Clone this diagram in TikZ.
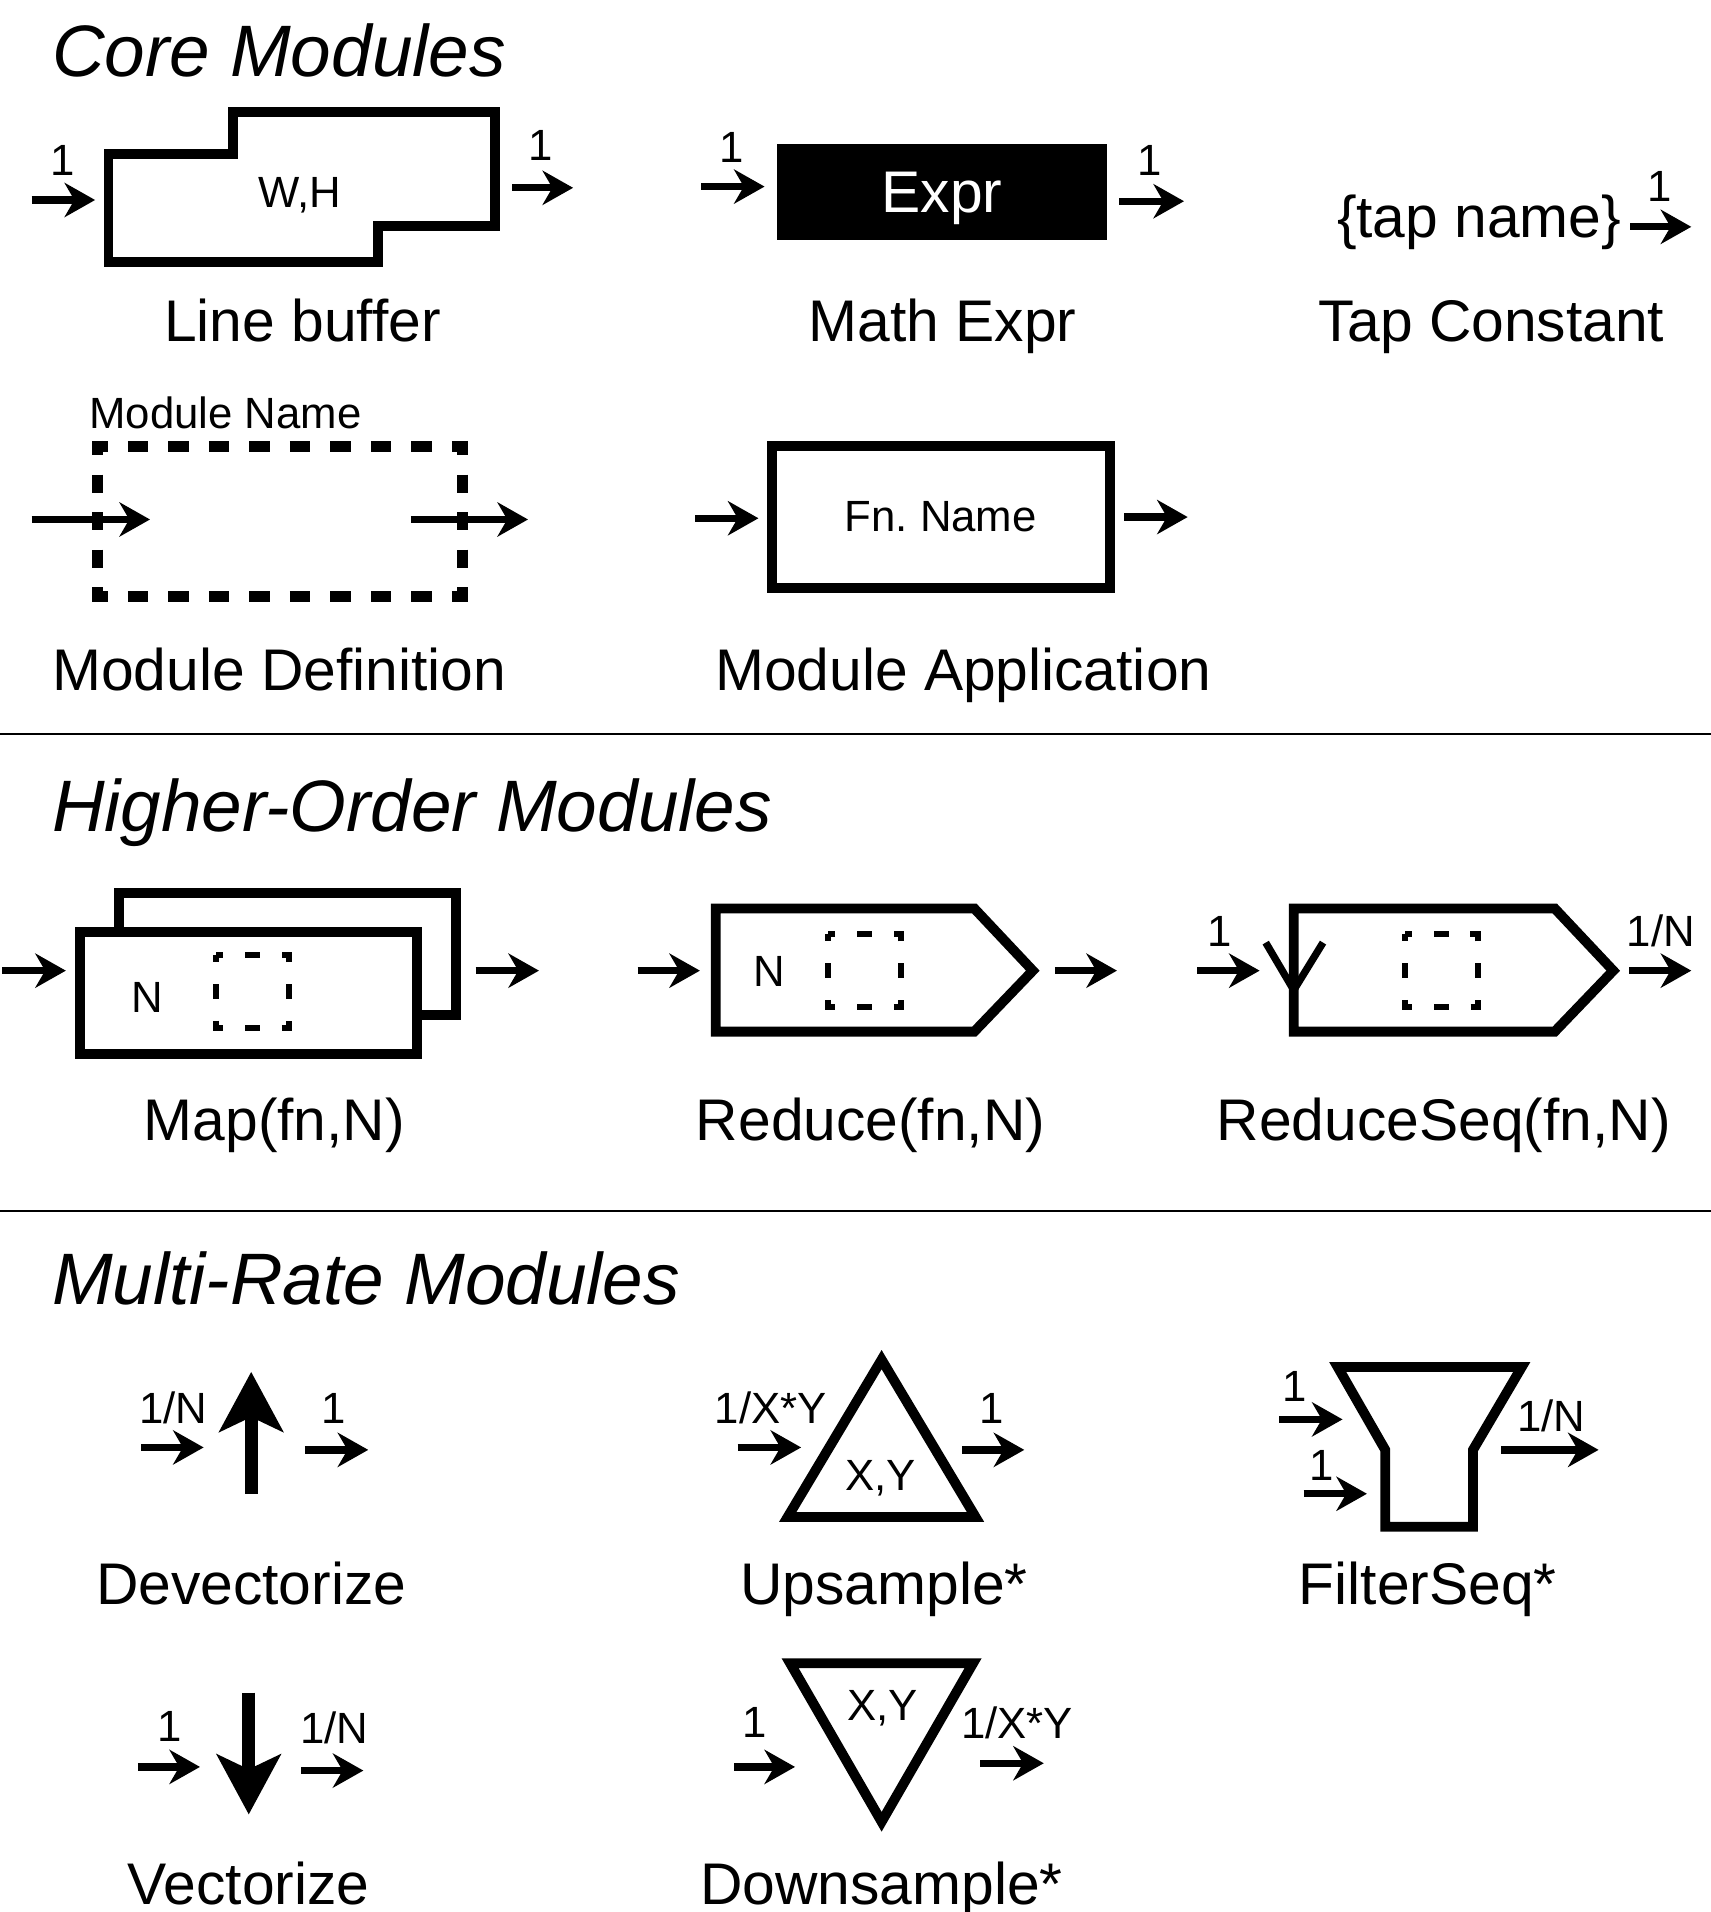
\documentclass[tikz,border=0pt]{standalone}
\usepackage{fontspec}
\setmainfont{Liberation Sans}
\usetikzlibrary{arrows.meta}
\tikzstyle{arrow} = [line width=1.7pt, -{Stealth[length=2.5mm, width=2.8mm, inset=0.8mm]}]
\tikzstyle{bigarrow} = [line width=3.1pt, -{Stealth[length=4.9mm, width=5.2mm, inset=1.2mm]}]
\tikzstyle{modedge} = [line width=2.3pt, line join=miter]
\tikzstyle{block} = [rectangle, draw=black, line width=2.3pt, fill=white, inner sep=0pt]
\tikzstyle{fnslot} = [line width=1.4pt, dash pattern=on 0.12cm off 0.18cm, dash phase=0.06cm]
\tikzstyle{defedge} = [line width=2.6pt]
\tikzstyle{heading} = [font=\fontsize{17}{20}\selectfont\itshape, anchor=base west, inner sep=0pt]
\tikzstyle{caption} = [font=\fontsize{13.7}{16}\selectfont, anchor=base, inner sep=0pt]
\tikzstyle{rate} = [font=\fontsize{10.2}{12}\selectfont, anchor=base, inner sep=0pt]

\begin{document}
\frenchspacing
\begin{tikzpicture}[x=0.01cm, y=-0.01cm]
\useasboundingbox (0,0) rectangle (1403,1568);
\fill [white] (0,0) rectangle (1403,1568);

% Section titles
\node (coretitle) [heading] at (42,63) {Core Modules};
\node (hightitle) [heading] at (42,682) {Higher-Order Modules};
\node (multititle) [heading] at (42,1070) {Multi-Rate Modules};

% Separators
\coordinate (sepa1) at (0,602);
\coordinate (sepa2) at (1403,602);
\coordinate (sepb1) at (0,993);
\coordinate (sepb2) at (1403,993);
\draw [line width=0.6pt] (sepa1) -- (sepa2);
\draw [line width=0.6pt] (sepb1) -- (sepb2);

% Line buffer
\draw [modedge] (89,126) -- (191,126) -- (191,92) -- (406,92) -- (406,185) -- (310,185) -- (310,215) -- (89,215) -- cycle;
\node (lbsize) [rate] at (246,170) {W,H};
\node (lbrate1) [rate] at (51,144) {1};
\node (lbrate2) [rate] at (443,132) {1};
\coordinate (lbin1) at (26,164);
\coordinate (lbin2) at (78,164);
\coordinate (lbout1) at (420,154);
\coordinate (lbout2) at (470,154);
\draw [arrow] (lbin1) -- (lbin2);
\draw [arrow] (lbout1) -- (lbout2);
\node (lbname) [caption] at (248,280) {Line buffer};

% Math Expr
\node (expr) [rectangle, fill=black, text=white, minimum width=2.71cm, minimum height=0.79cm, text depth=0pt, font=\fontsize{13.7}{16}\selectfont] at (772.5,157.5) {Expr};
\node (exprrate1) [rate] at (600,133) {1};
\node (exprrate2) [rate] at (943,144) {1};
\coordinate (exin1) at (575,153);
\coordinate (exin2) at (627,153);
\coordinate (exout1) at (918,165);
\coordinate (exout2) at (971,165);
\draw [arrow] (exin1) -- (exin2);
\draw [arrow] (exout1) -- (exout2);
\node (exprname) [caption] at (773,280) {Math Expr};

% Tap Constant
\node (tap) [caption] at (1213,195) {\{tap name\}};
\node (taprate) [rate] at (1361,165) {1};
\coordinate (tapout1) at (1337,186);
\coordinate (tapout2) at (1387,186);
\draw [arrow] (tapout1) -- (tapout2);
\node (tapname) [caption] at (1223,280) {Tap Constant};

% Module Definition
\draw [defedge, dash pattern=on 0.166cm off 0.166cm, dash phase=0.039cm] (75.5,366) -- (383.5,366) (75.5,489) -- (383.5,489);
\draw [defedge, dash pattern=on 0.15cm off 0.1575cm, dash phase=0.031cm] (80,361.5) -- (80,493.5) (379,361.5) -- (379,493.5);
\node (defname) [rate] at (185,351) {Module Name};
\coordinate (defin1) at (26,426);
\coordinate (defin2) at (123,426);
\coordinate (defout1) at (337,426);
\coordinate (defout2) at (433,426);
\draw [arrow] (defin1) -- (defin2);
\draw [arrow] (defout1) -- (defout2);
\node (deflabel) [caption] at (229,566) {Module Definition};

% Module Application
\node (app) [block, minimum width=2.77cm, minimum height=1.16cm, font=\fontsize{10.2}{12}\selectfont] at (771.5,424) {Fn. Name};
\coordinate (appin1) at (570,425);
\coordinate (appin2) at (622,425);
\coordinate (appout1) at (922,424);
\coordinate (appout2) at (974,424);
\draw [arrow] (appin1) -- (appin2);
\draw [arrow] (appout1) -- (appout2);
\node (applabel) [caption] at (790,566) {Module Application};

% Map
\node (mapback) [block, minimum width=2.76cm, minimum height=1.0cm] at (236,782) {};
\node (mapfront) [block, minimum width=2.76cm, minimum height=1.0cm] at (204,814) {};
\draw [fnslot] (177,783) rectangle (237,843);
\node (mapn) [rate] at (121,830) {N};
\coordinate (mapin1) at (2,796);
\coordinate (mapin2) at (54,796);
\coordinate (mapout1) at (390,796);
\coordinate (mapout2) at (442,796);
\draw [arrow] (mapin1) -- (mapin2);
\draw [arrow] (mapout1) -- (mapout2);
\node (maplabel) [caption] at (225,935) {Map(fn,N)};

% Reduce
\draw [modedge] (587,745) -- (799,745) -- (847,796) -- (799,846) -- (587,846) -- cycle;
\draw [fnslot] (679,766) rectangle (739,826);
\node (redn) [rate] at (631,809) {N};
\coordinate (redin1) at (523,796);
\coordinate (redin2) at (574,796);
\coordinate (redout1) at (865,796);
\coordinate (redout2) at (916,796);
\draw [arrow] (redin1) -- (redin2);
\draw [arrow] (redout1) -- (redout2);
\node (redlabel) [caption] at (714,935) {Reduce(fn,N)};

% ReduceSeq
\draw [modedge] (1061,745) -- (1275,745) -- (1323,796) -- (1275,846) -- (1061,846) -- cycle;
\draw [line width=1.7pt, line join=miter] (1038,773) -- (1061,812) -- (1085,773);
\draw [fnslot] (1152,766) rectangle (1212,826);
\node (rsrate1) [rate] at (1000,776) {1};
\node (rsrate2) [rate] at (1362,776) {1/N};
\coordinate (rsin1) at (982,796);
\coordinate (rsin2) at (1033,796);
\coordinate (rsout1) at (1336,796);
\coordinate (rsout2) at (1387,796);
\draw [arrow] (rsin1) -- (rsin2);
\draw [arrow] (rsout1) -- (rsout2);
\node (rslabel) [caption] at (1184,935) {ReduceSeq(fn,N)};

% Devectorize
\coordinate (dvup1) at (206,1225);
\coordinate (dvup2) at (206,1125);
\draw [bigarrow] (dvup1) -- (dvup2);
\node (dvrate1) [rate] at (142,1167) {1/N};
\node (dvrate2) [rate] at (274,1167) {1};
\coordinate (dvin1) at (116,1187);
\coordinate (dvin2) at (167,1187);
\coordinate (dvout1) at (250,1189);
\coordinate (dvout2) at (302,1189);
\draw [arrow] (dvin1) -- (dvin2);
\draw [arrow] (dvout1) -- (dvout2);
\node (dvlabel) [caption] at (206,1316) {Devectorize};

% Upsample
\draw [modedge] (723,1115) -- (800,1244) -- (646,1244) -- cycle;
\node (upsize) [rate] at (722,1222) {X,Y};
\node (uprate1) [rate] at (632,1167) {1/X*Y};
\node (uprate2) [rate] at (813,1167) {1};
\coordinate (upin1) at (605,1187);
\coordinate (upin2) at (657,1187);
\coordinate (upout1) at (789,1189);
\coordinate (upout2) at (840,1189);
\draw [arrow] (upin1) -- (upin2);
\draw [arrow] (upout1) -- (upout2);
\node (uplabel) [caption] at (725,1316) {Upsample*};

% FilterSeq
\draw [modedge] (1097,1121) -- (1248,1121) -- (1208,1189) -- (1208,1252) -- (1136,1252) -- (1136,1189) -- cycle;
\node (fsrate1) [rate] at (1062,1149) {1};
\node (fsrate2) [rate] at (1084,1214) {1};
\node (fsrate3) [rate] at (1272,1174) {1/N};
\coordinate (fsin1) at (1049,1164);
\coordinate (fsin2) at (1101,1164);
\coordinate (fsinb1) at (1069,1225);
\coordinate (fsinb2) at (1121,1225);
\coordinate (fsout1) at (1231,1189);
\coordinate (fsout2) at (1311,1189);
\draw [arrow] (fsin1) -- (fsin2);
\draw [arrow] (fsinb1) -- (fsinb2);
\draw [arrow] (fsout1) -- (fsout2);
\node (fslabel) [caption] at (1171,1316) {FilterSeq*};

% Vectorize
\coordinate (vcdown1) at (204,1388);
\coordinate (vcdown2) at (204,1488);
\draw [bigarrow] (vcdown1) -- (vcdown2);
\node (vcrate1) [rate] at (139,1428) {1};
\node (vcrate2) [rate] at (274,1430) {1/N};
\coordinate (vcin1) at (113,1449);
\coordinate (vcin2) at (164,1449);
\coordinate (vcout1) at (247,1452);
\coordinate (vcout2) at (298,1452);
\draw [arrow] (vcin1) -- (vcin2);
\draw [arrow] (vcout1) -- (vcout2);
\node (vclabel) [caption] at (204,1562) {Vectorize};

% Downsample
\draw [modedge] (648,1364) -- (798,1364) -- (723,1494) -- cycle;
\node (dnsize) [rate] at (724,1411) {X,Y};
\node (dnrate1) [rate] at (619,1425) {1};
\node (dnrate2) [rate] at (834,1426) {1/X*Y};
\coordinate (dnin1) at (602,1449);
\coordinate (dnin2) at (652,1449);
\coordinate (dnout1) at (804,1446);
\coordinate (dnout2) at (856,1446);
\draw [arrow] (dnin1) -- (dnin2);
\draw [arrow] (dnout1) -- (dnout2);
\node (dnlabel) [caption] at (723,1562) {Downsample*};

\end{tikzpicture}
\end{document}
